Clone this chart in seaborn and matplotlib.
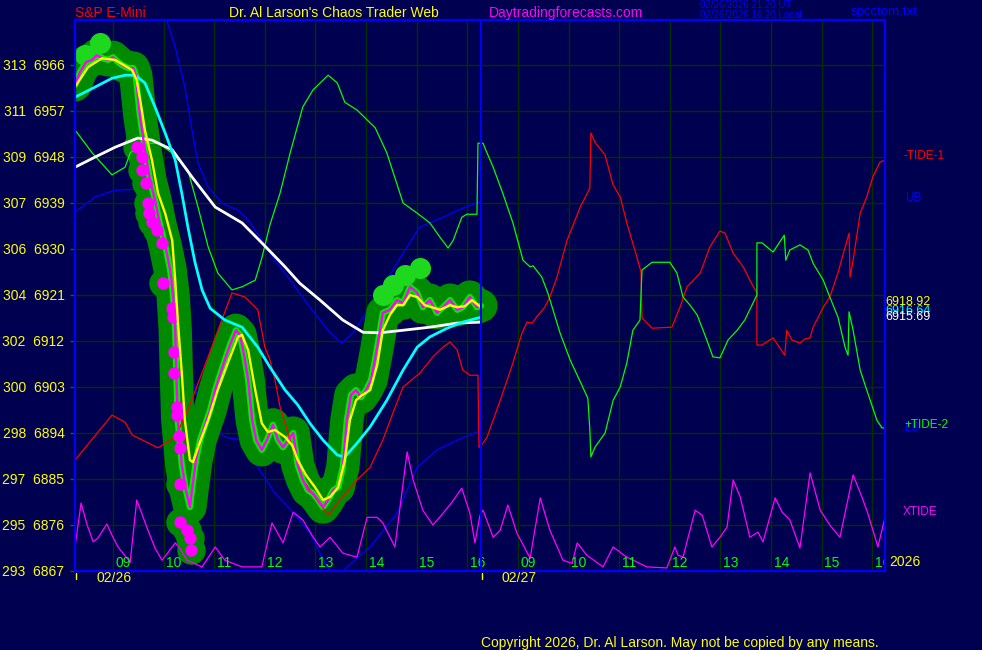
import numpy as np
import pandas as pd
import seaborn as sns
import matplotlib.pyplot as plt

sns.set_theme(style="dark")
plt.rcParams['font.family'] = ['Liberation Sans', 'DejaVu Sans']

# time axis = hours since the 08:15 open of 02/26, 02/27 session starts at 8.02
session_break = 8.02

# price bars (close), day 1
close_t = [0.00, 0.10, 0.22, 0.34, 0.43, 0.55, 0.65, 0.75, 0.85, 0.93,
           1.05, 1.15, 1.20, 1.28, 1.38, 1.48, 1.58, 1.68, 1.78, 1.88,
           1.94, 1.98, 2.00, 2.03, 2.11, 2.19, 2.27, 2.31, 2.39, 2.47,
           2.57, 2.67, 2.77, 2.86, 2.96, 3.06, 3.18, 3.26, 3.34, 3.42,
           3.50, 3.58, 3.69, 3.79, 3.91, 4.01, 4.11, 4.21, 4.31, 4.40,
           4.50, 4.60, 4.70, 4.80, 4.90, 5.00, 5.10, 5.20, 5.29, 5.37,
           5.45, 5.55, 5.65, 5.75, 5.85, 5.97, 6.08, 6.22, 6.36, 6.48,
           6.62, 6.76, 6.87, 7.01, 7.15, 7.27, 7.41, 7.55, 7.66, 7.80,
           7.94, 8.02]
close_p = [6962.1, 6964.6, 6966.6, 6967.0, 6967.9, 6967.3, 6967.0, 6967.5, 6966.6, 6966.0,
           6965.4, 6965.4, 6964.0, 6956.2, 6949.4, 6943.5, 6939.6, 6934.7, 6930.8, 6925.9,
           6920.6, 6914.1, 6906.3, 6896.5, 6887.7, 6882.8, 6879.5, 6882.8, 6888.7, 6892.6,
           6895.6, 6898.5, 6902.4, 6905.3, 6908.3, 6911.2, 6914.1, 6913.2, 6909.2, 6904.4,
           6896.5, 6892.6, 6890.7, 6892.6, 6895.6, 6892.6, 6891.2, 6892.6, 6894.0, 6887.7,
           6884.8, 6882.8, 6882.2, 6880.9, 6879.5, 6880.9, 6882.8, 6883.4, 6887.3, 6896.5,
           6901.4, 6902.4, 6901.0, 6902.4, 6904.4, 6910.8, 6917.5, 6918.1, 6920.0, 6919.4,
           6922.6, 6921.4, 6918.6, 6920.0, 6917.5, 6918.6, 6920.0, 6918.1, 6918.6, 6920.6,
           6918.6, 6918.9]

# yellow smoothed price
avg_t = [0.00, 0.26, 0.53, 0.79, 1.13, 1.22, 1.32, 1.38, 1.52, 1.64,
         1.78, 1.92, 1.98, 2.03, 2.11, 2.17, 2.27, 2.33, 2.43, 2.63,
         2.82, 3.02, 3.22, 3.30, 3.42, 3.56, 3.69, 3.81, 3.95, 4.15,
         4.29, 4.40, 4.56, 4.74, 4.90, 5.04, 5.20, 5.33, 5.43, 5.55,
         5.67, 5.83, 5.97, 6.08, 6.22, 6.36, 6.48, 6.62, 6.76, 6.91,
         7.05, 7.21, 7.41, 7.55, 7.70, 7.84, 8.02]
avg_p = [6961.7, 6965.6, 6967.3, 6967.0, 6965.0, 6963.0, 6957.2, 6953.3, 6947.4, 6940.9,
         6937.0, 6931.7, 6923.9, 6916.1, 6905.7, 6896.5, 6888.7, 6888.3, 6891.2, 6896.5,
         6902.4, 6907.7, 6912.8, 6913.2, 6910.2, 6902.4, 6895.9, 6894.2, 6894.6, 6893.2,
         6891.6, 6888.7, 6885.8, 6883.4, 6880.9, 6881.5, 6883.4, 6888.7, 6896.5, 6900.4,
         6901.4, 6902.4, 6907.3, 6914.1, 6917.1, 6919.0, 6919.0, 6921.0, 6920.6, 6919.0,
         6918.6, 6918.1, 6919.0, 6918.6, 6918.8, 6920.0, 6918.6]

# cyan (fast) and white (slow) averages
fast_t = [0.00, 0.40, 0.73, 0.99, 1.19, 1.38, 1.58, 1.78, 1.98, 2.11,
          2.23, 2.37, 2.51, 2.67, 2.96, 3.30, 3.61, 3.85, 4.15, 4.40,
          4.64, 4.90, 5.18, 5.33, 5.57, 5.83, 6.16, 6.48, 6.76, 7.01,
          7.35, 7.66, 8.00]
fast_p = [6959.7, 6961.7, 6963.4, 6964.0, 6964.0, 6962.5, 6957.8, 6952.7, 6947.4, 6940.9,
          6934.3, 6927.4, 6922.0, 6918.4, 6916.1, 6914.7, 6910.8, 6906.9, 6902.4, 6899.5,
          6895.9, 6892.6, 6889.7, 6889.3, 6892.0, 6895.2, 6900.4, 6906.3, 6910.8, 6912.8,
          6914.5, 6915.7, 6916.6]
slow_t = [0.00, 0.40, 0.79, 1.24, 1.52, 1.92, 2.31, 2.77, 3.30, 3.69,
          4.15, 4.44, 4.84, 5.29, 5.69, 6.02, 6.48, 7.01, 7.55, 8.00]
slow_p = [6946.0, 6948.0, 6949.9, 6951.7, 6951.3, 6949.4, 6944.1, 6938.2, 6935.1, 6931.2,
          6926.5, 6923.3, 6920.0, 6916.1, 6913.7, 6913.6, 6914.1, 6914.7, 6915.5, 6915.7]

# upper / lower bands
ub_t = [1.64, 1.84, 1.98, 2.17, 2.31, 2.43, 2.63, 2.90, 3.22, 3.42,
        3.69, 3.95, 4.25, 4.64, 5.04, 5.27, 5.49, 5.79, 6.08, 6.48,
        6.81, 7.27, 7.66, 8.00]
ub_p = [6978.7, 6973.8, 6969.5, 6961.7, 6953.3, 6946.8, 6942.1, 6939.0, 6937.6, 6935.7,
        6931.7, 6927.8, 6923.9, 6918.6, 6913.6, 6911.6, 6913.6, 6918.1, 6922.6, 6929.2,
        6934.3, 6936.2, 6938.0, 6939.2]
lb_t = [0.00, 0.40, 0.79, 1.19, 2.11, 2.31, 2.63, 2.96, 3.30, 3.61,
        3.95, 4.25, 4.64, 4.98, 5.18, 5.37, 5.83, 6.36, 6.76, 7.15,
        7.55, 7.94]
lb_p = [6937.2, 6940.2, 6941.5, 6941.7, 6915.5, 6904.4, 6895.9, 6893.2, 6892.6, 6887.3,
        6882.2, 6879.1, 6874.4, 6867.8, 6865.6, 6867.8, 6871.7, 6878.3, 6887.3, 6890.7,
        6892.6, 6894.2]

# -TIDE-1 (red)
tide1_t = [0.00, 0.49, 0.73, 0.99, 1.13, 1.64, 1.98, 2.23, 2.63, 2.90,
           3.10, 3.36, 3.61, 3.75, 3.85, 3.95, 4.05, 4.25, 4.50, 4.78,
           5.00, 5.23, 5.57, 5.83, 6.08, 6.28, 6.48, 6.81, 7.07, 7.27,
           7.41, 7.55, 7.66, 7.80, 7.96, 7.98, 8.06,
           8.14, 8.40, 8.65, 8.83, 8.93, 9.03, 9.15, 9.28, 9.38, 9.52,
           9.72, 9.98, 10.17, 10.19, 10.27, 10.47, 10.63, 10.77, 10.90, 11.10,
           11.18, 11.20, 11.40, 11.79, 11.95, 12.09, 12.35, 12.54, 12.74, 12.84,
           13.00, 13.20, 13.33, 13.47, 13.47, 13.57, 13.79, 14.02, 14.06, 14.16,
           14.32, 14.42, 14.52, 14.58, 14.78, 14.91, 15.07, 15.25, 15.29, 15.31,
           15.37, 15.51, 15.64, 15.76, 15.90, 16.00]
tide1_p = [6888.7, 6894.6, 6897.5, 6896.1, 6893.6, 6891.1, 6893.2, 6898.5, 6908.9, 6916.1,
           6921.4, 6920.6, 6918.1, 6910.8, 6908.3, 6904.4, 6899.1, 6892.6, 6884.8, 6880.9,
           6877.9, 6880.9, 6884.8, 6887.3, 6892.6, 6897.9, 6903.0, 6905.7, 6908.9, 6910.8,
           6911.8, 6910.2, 6906.3, 6905.3, 6905.3, 6891.2, 6892.0,
           6893.2, 6900.4, 6907.7, 6913.6, 6915.7, 6915.5, 6917.1, 6918.6, 6920.6, 6924.5,
           6931.7, 6938.2, 6941.9, 6952.7, 6950.9, 6948.4, 6942.5, 6940.2, 6935.1, 6928.4,
           6925.5, 6916.5, 6914.5, 6914.7, 6918.6, 6922.6, 6925.3, 6930.4, 6933.5, 6933.1,
           6929.2, 6926.5, 6923.9, 6921.4, 6911.2, 6911.2, 6912.6, 6909.2, 6914.1, 6912.2,
           6911.6, 6912.4, 6912.6, 6914.7, 6918.6, 6920.6, 6925.3, 6931.7, 6933.1, 6924.5,
           6927.8, 6937.0, 6940.2, 6944.1, 6947.0, 6947.4]

# +TIDE-2 (green)
tide2_t = [0.00, 0.34, 0.73, 0.99, 1.09, 1.32, 1.64, 1.92, 2.23, 2.43,
           2.63, 2.82, 3.10, 3.30, 3.56, 3.69, 3.85, 4.05, 4.25, 4.50,
           4.70, 5.00, 5.18, 5.33, 5.57, 5.93, 6.16, 6.48, 6.76, 7.01,
           7.21, 7.37, 7.47, 7.64, 7.74, 7.94, 7.96, 8.06, 8.10,
           8.26, 8.45, 8.65, 8.85, 8.99, 9.05, 9.22, 9.34, 9.58, 9.78,
           10.01, 10.13, 10.17, 10.19, 10.27, 10.47, 10.63, 10.77, 10.90, 11.02,
           11.16, 11.20, 11.40, 11.75, 11.89, 12.01, 12.15, 12.29, 12.48, 12.60,
           12.74, 12.90, 13.08, 13.23, 13.47, 13.47, 13.57, 13.79, 14.01, 14.04,
           14.12, 14.32, 14.48, 14.58, 14.78, 14.91, 15.07, 15.21, 15.27, 15.29,
           15.37, 15.51, 15.66, 15.84, 15.94, 16.00]
tide2_p = [6953.3, 6948.8, 6944.5, 6946.0, 6948.8, 6950.7, 6950.7, 6948.8, 6945.4, 6938.2,
           6930.4, 6925.3, 6922.0, 6922.6, 6923.9, 6928.2, 6934.7, 6940.9, 6948.8, 6957.8,
           6961.1, 6964.0, 6962.5, 6958.7, 6957.2, 6953.7, 6948.8, 6939.0, 6937.0, 6935.1,
           6932.3, 6930.2, 6931.7, 6936.2, 6936.8, 6936.8, 6950.7, 6950.7, 6949.7,
           6946.0, 6940.9, 6935.1, 6927.8, 6926.5, 6926.7, 6924.5, 6921.4, 6913.6, 6908.3,
           6903.4, 6900.8, 6894.6, 6889.3, 6891.2, 6894.0, 6900.4, 6903.0, 6907.7, 6914.1,
           6916.1, 6925.9, 6927.4, 6927.4, 6925.3, 6920.6, 6919.0, 6917.1, 6912.2, 6908.9,
           6908.7, 6912.2, 6914.1, 6916.1, 6921.0, 6931.2, 6931.2, 6929.4, 6932.7, 6927.8,
           6929.8, 6930.8, 6929.8, 6927.2, 6923.9, 6920.6, 6916.7, 6910.8, 6909.2, 6917.7,
           6914.1, 6906.3, 6901.8, 6896.5, 6895.0, 6895.0]

# XTIDE (magenta, bottom)
xtide_t = [0.00, 0.12, 0.24, 0.36, 0.45, 0.63, 0.73, 0.85, 1.09, 1.22,
           1.44, 1.58, 1.72, 1.98, 2.07, 2.21, 2.51, 2.77, 2.96, 3.30,
           3.69, 3.89, 4.05, 4.11, 4.31, 4.50, 4.68, 4.84, 5.04, 5.29,
           5.57, 5.77, 5.97, 6.08, 6.32, 6.56, 6.68, 6.87, 7.07, 7.27,
           7.45, 7.64, 7.80, 7.90, 8.00,
           8.06, 8.26, 8.40, 8.55, 8.73, 8.99, 9.19, 9.38, 9.64, 9.82,
           9.92, 10.11, 10.43, 10.63, 10.90, 11.30, 11.69, 11.85, 11.91, 12.01,
           12.25, 12.39, 12.58, 12.74, 12.88, 13.00, 13.14, 13.33, 13.49, 13.59,
           13.83, 13.97, 14.12, 14.32, 14.52, 14.72, 14.91, 15.11, 15.37, 15.55,
           15.66, 15.86, 16.00]
xtide_p = [6871.7, 6880.3, 6876.0, 6872.7, 6873.4, 6876.2, 6874.0, 6871.7, 6868.7, 6880.9,
           6875.0, 6871.5, 6869.1, 6872.5, 6871.5, 6869.1, 6867.8, 6871.7, 6869.1, 6867.8,
           6867.8, 6876.4, 6873.6, 6872.5, 6878.5, 6877.0, 6874.0, 6871.7, 6873.6, 6870.5,
           6869.7, 6877.5, 6877.5, 6876.4, 6871.7, 6890.3, 6884.8, 6878.9, 6876.0, 6878.3,
           6880.5, 6883.2, 6878.3, 6872.5, 6877.9,
           6878.9, 6873.6, 6875.0, 6879.9, 6874.4, 6869.5, 6881.3, 6875.0, 6869.1, 6868.5,
           6872.5, 6870.1, 6867.8, 6871.7, 6869.7, 6867.8, 6867.6, 6871.7, 6870.1, 6869.7,
           6878.9, 6877.9, 6871.7, 6873.6, 6875.6, 6884.8, 6881.5, 6873.6, 6874.6, 6872.7,
           6881.3, 6878.5, 6877.0, 6871.5, 6886.2, 6878.9, 6876.0, 6873.6, 6885.8, 6881.3,
           6878.3, 6871.7, 6877.5]

# magenta dots on the sell-off, light green highs
dots_t = [1.22, 1.32, 1.32, 1.40, 1.44, 1.46, 1.52, 1.62, 1.72, 1.74, 1.92, 1.94,
          1.96, 1.96, 2.01, 2.01, 2.05, 2.07, 2.07, 2.07, 2.21, 2.27, 2.29]
dots_p = [6949.9, 6948.0, 6945.4, 6942.9, 6939.0, 6937.0, 6935.3, 6933.7, 6931.2, 6923.3, 6918.4, 6916.7,
          6909.8, 6905.7, 6899.1, 6897.5, 6893.4, 6891.1, 6884.0, 6876.6, 6875.0, 6873.4, 6871.1]
highs_t = [0.20, 0.49, 6.08, 6.28, 6.52, 6.81]
highs_p = [6967.9, 6970.3, 6921.0, 6922.9, 6924.9, 6926.3]

price_ticks = [6867, 6876, 6885, 6894, 6903, 6912, 6921, 6930, 6939, 6948, 6957, 6966]
index_ticks = [293, 295, 297, 298, 300, 302, 304, 306, 307, 309, 311, 313]
hour_labels = ['09', '10', '11', '12', '13', '14', '15', '16']
date_labels = ['02/26', '02/27']
last_values = [6918.92, 6916.64, 6915.69]

NAVY = '#000050'
fig = plt.figure(figsize=(9.82, 6.5), dpi=100, facecolor=NAVY)
ax = fig.add_axes([75 / 982, 79 / 650, 810 / 982, 551 / 650])
ax.set_facecolor(NAVY)


def line(t, p, color, lw, z, **kw):
    sns.lineplot(x=t, y=p, ax=ax, color=color, linewidth=lw, estimator=None,
                 sort=False, legend=False, zorder=z, **kw)


# bands under the glow
line(ub_t, ub_p, '#0000ff', 0.9, 1)
line(lb_t, lb_p, '#0000ff', 0.9, 1)

# price glow + bars
line(close_t, close_p, '#008a00', 24, 2, solid_capstyle='round', solid_joinstyle='round')
sns.scatterplot(x=dots_t, y=dots_p, ax=ax, s=420, color='#008a00', linewidth=0, zorder=2)
sns.scatterplot(x=highs_t, y=highs_p, ax=ax, s=230, color='#1ed81e', linewidth=0, zorder=2.5)
line(close_t, close_p, '#00ee00', 4.5, 3, solid_capstyle='round', solid_joinstyle='round')

# tides
line(tide1_t, tide1_p, '#ff0000', 0.9, 4)
line(tide2_t, tide2_p, '#00ff00', 0.9, 4)
line(xtide_t, xtide_p, '#ff00ff', 0.9, 4)

# averages and price
line(slow_t, slow_p, '#ffffff', 2.0, 5)
line(fast_t, fast_p, '#00ffff', 2.0, 5)
line(close_t, close_p, '#ff00ff', 1.7, 6)
sns.scatterplot(x=dots_t, y=dots_p, ax=ax, s=80, color='#ff00ff', linewidth=0, zorder=6.5)
line(avg_t, avg_p, '#ffff00', 1.7, 7)

ax.axvline(session_break, color='#0000ff', linewidth=1.5, zorder=9)

# axes, grid, ticks
grid_x = [d * 8 + h - 8.25 for d in range(2) for h in range(9, 17)]
ax.set_xlim(0, 16)
ax.set_ylim(6867, 6974.8)
ax.set_xticks(grid_x)
ax.set_xticklabels([])
ax.set_yticks(price_ticks)
ax.set_yticklabels([f"{i}  {p}" for i, p in zip(index_ticks, price_ticks)])
ax.tick_params(axis='x', length=0)
ax.tick_params(axis='y', length=3.6, width=1, color='#1f5f1f', labelcolor='#ffff00',
               labelsize=10, pad=4, left=True)
ax.grid(True, color='#003000', linewidth=1.0)
ax.set_xlabel('')
ax.set_ylabel('')
for s in ax.spines.values():
    s.set_color('#0000ff')
    s.set_linewidth(1.6)
    s.set_zorder(10)

for i, gx in enumerate(grid_x):
    ax.text(gx + 0.2, 6868.6, hour_labels[i % 8], color='#00ff00', fontsize=10,
            ha='center', va='center', clip_on=True, zorder=8)

xt = ax.get_xaxis_transform()
for d, lab in enumerate(date_labels):
    start = d * session_break
    ax.plot([start + 0.02, start + 0.02], [-0.003, -0.014], color='#ffff00', lw=1,
            transform=xt, clip_on=False)
    ax.text(grid_x[d * 8] + 0.02, -0.0127, lab, color='#ffff00', fontsize=10,
            ha='center', va='center', transform=xt)


def ftext(x, y, s, color, size, ha='left'):
    fig.text(x / 982, 1 - y / 650, s, color=color, fontsize=size, ha=ha, va='center')


ftext(75, 13, 'S&P E-Mini', '#ff0000', 10)
ftext(229, 13, "Dr. Al Larson's Chaos Trader Web", '#ffff00', 10)
ftext(489, 13, 'Daytradingforecasts.com', '#ff00ff', 10)
ftext(700, 5, '02/26/2026 21:20 UT', '#0000ff', 7)
ftext(700, 15, '02/26/2026 16:20 Local', '#0000ff', 7)
ftext(851, 12, 'spcctom.txt', '#0000ff', 9.5)

ftext(903, 156, '-TIDE-1', '#ff0000', 8.5)
ftext(905, 198, 'UB', '#0000ff', 8.5)
ftext(885, 302, f"{last_values[0]:.2f}", '#ffff00', 9)
ftext(885, 311, f"{last_values[1]:.2f}", '#00ffff', 9)
ftext(885, 317, f"{last_values[2]:.2f}", '#ffffff', 9)
ftext(905, 428, 'LB', '#0000ff', 8.5)
ftext(904, 425, '+TIDE-2', '#00ff00', 8.5)
ftext(903, 512, 'XTIDE', '#ff00ff', 8.5)
ftext(889, 562, '2026', '#ffff00', 10)
ftext(481, 643, 'Copyright 2026, Dr. Al Larson. May not be copied by any means.', '#ffff00', 10)

fig.savefig('out.png', dpi=100, facecolor=NAVY)
